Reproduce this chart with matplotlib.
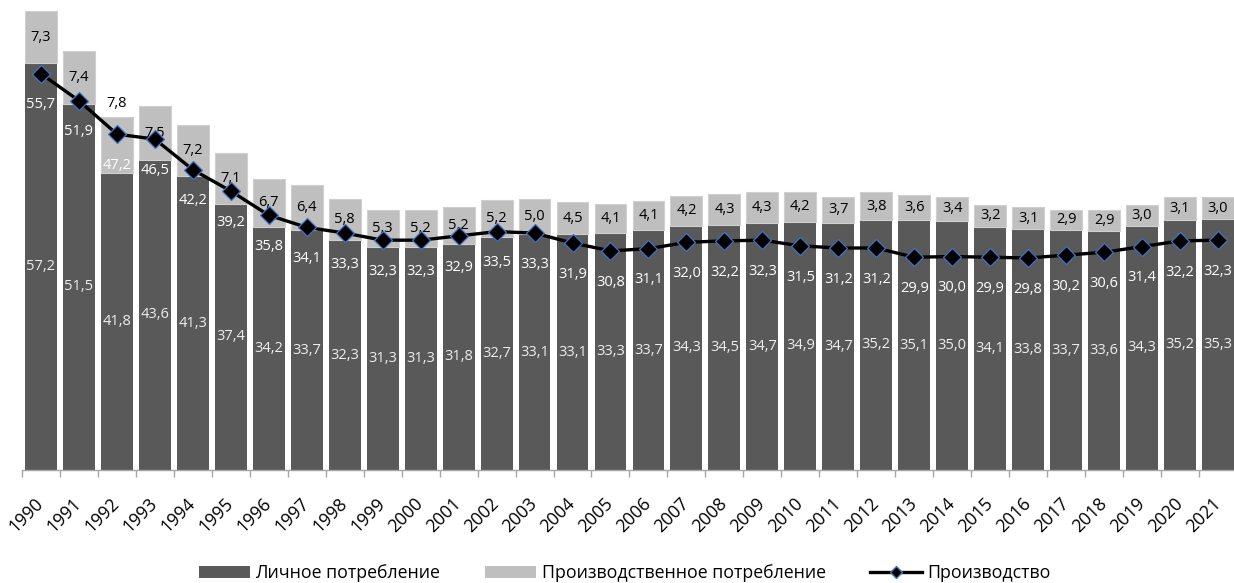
import matplotlib
matplotlib.use("Agg")
import matplotlib.pyplot as plt
from matplotlib.lines import Line2D
from matplotlib.patches import Patch
import numpy as np

plt.rcParams['font.family'] = ['Open Sans', 'DejaVu Sans']

years = [str(y) for y in range(1990, 2022)]
personal = [57.2, 51.5, 41.8, 43.6, 41.3, 37.4, 34.2, 33.7, 32.3, 31.3,
            31.3, 31.8, 32.7, 33.1, 33.1, 33.3, 33.7, 34.3, 34.5, 34.7,
            34.9, 34.7, 35.2, 35.1, 35.0, 34.1, 33.8, 33.7, 33.6, 34.3,
            35.2, 35.3]
industrial = [7.3, 7.4, 7.8, 7.5, 7.2, 7.1, 6.7, 6.4, 5.8, 5.3,
              5.2, 5.2, 5.2, 5.0, 4.5, 4.1, 4.1, 4.2, 4.3, 4.3,
              4.2, 3.7, 3.8, 3.6, 3.4, 3.2, 3.1, 2.9, 2.9, 3.0,
              3.1, 3.0]
production = [55.7, 51.9, 47.2, 46.5, 42.2, 39.2, 35.8, 34.1, 33.3, 32.3,
              32.3, 32.9, 33.5, 33.3, 31.9, 30.8, 31.1, 32.0, 32.2, 32.3,
              31.5, 31.2, 31.2, 29.9, 30.0, 29.9, 29.8, 30.2, 30.6, 31.4,
              32.2, 32.3]

DARK = '#595959'
LIGHT = '#BFBFBF'
BLUE = '#4472C4'

def fmt(v):
    return f"{v:.1f}".replace('.', ',')

fig = plt.figure(figsize=(12.34, 5.83), dpi=100)
ax = fig.add_axes([0.0178, 0.1938, 0.9846, 0.8062])

x = np.arange(len(years))
w = 0.84
ax.bar(x, personal, width=w, color=DARK, zorder=2)
ax.bar(x, industrial, width=w, bottom=personal, color=LIGHT,
       edgecolor='#D0D0D0', linewidth=0.8, zorder=2)
ax.plot(x, production, color='black', linewidth=2.4, marker='D',
        markersize=9, markerfacecolor='black', markeredgecolor=BLUE,
        markeredgewidth=0.9, zorder=5)

fs = 10.5
for i in range(len(years)):
    ax.text(x[i], personal[i] / 2, fmt(personal[i]), ha='center', va='center',
            color='#EEEEEE', fontsize=fs, zorder=4)
    if i == 2:
        ax.annotate(fmt(industrial[i]), (x[i], personal[i] + industrial[i]),
                    xytext=(0, 10), textcoords='offset points',
                    ha='center', va='center', color='black', fontsize=fs, zorder=3)
    else:
        ax.text(x[i], personal[i] + industrial[i] / 2, fmt(industrial[i]),
                ha='center', va='center', color='black', fontsize=fs, zorder=3)
    ax.annotate(fmt(production[i]), (x[i], production[i]), xytext=(0, -22.5),
                textcoords='offset points', ha='center', va='center',
                color='white', fontsize=fs, zorder=6)

ax.set_xlim(-0.5, len(years) - 0.5)
ax.set_ylim(0, 66.05)
ax.set_yticks([])
for s in ['top', 'right', 'left']:
    ax.spines[s].set_visible(False)
ax.spines['bottom'].set_color('#A6A6A6')
ax.spines['bottom'].set_linewidth(1.0)
ax.set_xticks(x)
ax.set_xticklabels(years, rotation=45, ha='right', va='center',
                   rotation_mode='anchor', fontsize=12.8)
ax.tick_params(axis='x', which='major', length=0, pad=22)
ax.set_xticks(np.arange(len(years) + 1) - 0.5, minor=True)
ax.tick_params(axis='x', which='minor', length=5, color='#A6A6A6', width=1.0)

handles = [Patch(facecolor=DARK, edgecolor='none'),
           Patch(facecolor=LIGHT, edgecolor='none'),
           Line2D([0], [0], color='black', linewidth=2.4, marker='D',
                  markersize=6, markerfacecolor='black', markeredgecolor=BLUE)]
labels = ['Личное потребление', 'Производственное потребление', 'Производство']
fig.legend(handles, labels, loc='center', bbox_to_anchor=(0.506, 1 - 573 / 583),
           ncol=3, frameon=False, fontsize=12.8, handlelength=2.9,
           handletextpad=0.3, columnspacing=2.5)

fig.savefig('out.png', dpi=100)
